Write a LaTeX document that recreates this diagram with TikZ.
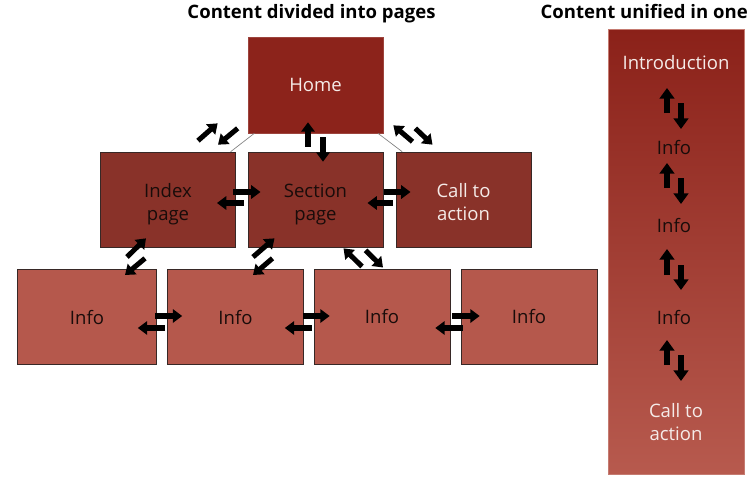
\documentclass[tikz,border=0pt]{standalone}
\usepackage{fontspec}
\setmainfont{Open Sans}
\usetikzlibrary{arrows.meta,calc}
\definecolor{homered}{RGB}{140,35,27}
\definecolor{midred}{RGB}{137,50,41}
\definecolor{infored}{RGB}{181,88,76}
\definecolor{coltop}{RGB}{139,33,25}
\definecolor{colbot}{RGB}{183,90,78}
\definecolor{boxline}{RGB}{55,40,38}
\definecolor{lighttext}{RGB}{245,235,232}
\definecolor{darktext}{RGB}{25,12,10}
\newcommand{\twoline}[2]{\raisebox{-3.8pt}[\height][\depth]{\begin{tabular}{@{}c@{}}#1\\#2\end{tabular}}}
\begin{document}
\begin{tikzpicture}[x=0.75pt,y=-0.75pt,
 page/.style={rectangle, inner sep=0pt, align=center, font=\fontsize{13.9}{17.5}\selectfont, draw=boxline, line width=0.5pt},
 homebox/.style={page, fill=homered, draw=homered!85!white, text=lighttext, minimum width=101.25pt, minimum height=72pt},
 midbox/.style={page, fill=midred, minimum width=101.5pt, minimum height=71.25pt},
 infobox/.style={page, fill=infored, text=darktext, minimum width=102pt, minimum height=71.5pt},
 barrow/.style={line width=3.8pt, -{Triangle[width=10pt,length=7pt]}},
 colarrow/.style={line width=4.5pt, -{Triangle[width=11pt,length=8pt]}},
 title/.style={font=\fontsize{13.9}{16}\selectfont\bfseries, text=black, inner sep=0pt},
 coltext/.style={font=\fontsize{13.9}{17.5}\selectfont, align=center, inner sep=0pt},
 link/.style={draw=gray, line width=0.5pt}]
\useasboundingbox (0,0) rectangle (750,497);

% titles
\node[title, anchor=base] (t1) at (311.5,18) {Content divided into pages};
\node[title, anchor=base east] (t2) at (748,18) {Content unified in one};

% boxes
\node[homebox] (home) at (315.5,85) {Home};
\node[midbox, text=darktext] (index) at (168,199.5) {\twoline{Index}{page}};
\node[midbox, text=darktext] (section) at (315.5,199.5) {\twoline{Section}{page}};
\node[midbox, text=lighttext] (call) at (463.5,199.5) {\twoline{Call to}{action}};
\node[infobox, minimum width=104.25pt] (info1) at (87,317) {Info};
\node[infobox] (info2) at (235.5,317) {Info};
\node[infobox] (info3) at (382,316.5) {Info};
\node[infobox] (info4) at (529,316.5) {Info};

% thin links
\draw[link] ([xshift=5]home.south west) -- ([xshift=-4]index.north east);
\draw[link] ([xshift=-4]home.south east) -- ([xshift=5]call.north west);

% home - index
\draw[barrow] ([shift={(-38,-11)}]index.north east) -- ([shift={(-30,-10)}]home.south west);
\draw[barrow] ([shift={(-10,-5)}]home.south west) -- ([shift={(-18,-7)}]index.north east);
% home - section
\draw[barrow] ([shift={(-7.5,-5)}]section.north) -- ([shift={(-7.5,-11)}]home.south);
\draw[barrow] ([shift={(7.5,4)}]home.south) -- ([shift={(7.5,10)}]section.north);
% home - call
\draw[barrow] ([shift={(17,-10)}]call.north west) -- ([shift={(10,-8)}]home.south east);
\draw[barrow] ([shift={(32,-5)}]home.south east) -- ([shift={(37,-7)}]call.north west);
% index - section
\draw[barrow] ([shift={(-3,-7.5)}]index.east) -- ([shift={(13,-7.5)}]section.west);
\draw[barrow] ([shift={(-4,3.5)}]section.west) -- ([shift={(-19,3.5)}]index.east);
% section - call
\draw[barrow] ([shift={(0,-7.5)}]section.east) -- ([shift={(15,-7.5)}]call.west);
\draw[barrow] ([shift={(-3,3.5)}]call.west) -- ([shift={(-16,3.5)}]section.east);
% index - info1
\draw[barrow] ([shift={(40,-12)}]info1.north) -- ([shift={(46,-9)}]index.south west);
\draw[barrow] ([shift={(45,11)}]index.south west) -- ([shift={(38,6)}]info1.north);
% section - info2
\draw[barrow] ([shift={(17.5,-12)}]info2.north) -- ([shift={(27,-9)}]section.south west);
\draw[barrow] ([shift={(25,11)}]section.south west) -- ([shift={(17.5,6)}]info2.north);
% section - info3
\draw[barrow] ([shift={(-20,-2)}]info3.north) -- ([shift={(-40,1)}]section.south east);
\draw[barrow] ([shift={(-18,3)}]section.south east) -- ([shift={(1,-1)}]info3.north);
% info row
\draw[barrow] ([shift={(-2,-1)}]info1.east) -- ([shift={(15,-1)}]info2.west);
\draw[barrow] ([shift={(-2,11)}]info2.west) -- ([shift={(-19,11)}]info1.east);
\draw[barrow] ([shift={(-1,-1)}]info2.east) -- ([shift={(16,-0.5)}]info3.west);
\draw[barrow] ([shift={(-2,11.5)}]info3.west) -- ([shift={(-19,11)}]info2.east);
\draw[barrow] ([shift={(2,-0.5)}]info3.east) -- ([shift={(19,-0.5)}]info4.west);
\draw[barrow] ([shift={(2,11.5)}]info4.west) -- ([shift={(-15,11.5)}]info3.east);

% right column
\node[rectangle, inner sep=0pt, draw=colbot!80!white, line width=0.5pt, top color=coltop, bottom color=colbot,
      minimum width=102pt, minimum height=333.75pt] (col) at (676,251.5) {};
\node[coltext, text=lighttext] (intro) at (676,63) {Introduction};
\node[coltext, text=darktext] (ci1) at (674,147) {Info};
\node[coltext, text=darktext] (ci2) at (674,225) {Info};
\node[coltext, text=darktext] (ci3) at (674,317) {Info};
\node[coltext, text=lighttext] (cta) at (676,422) {Call to\\action};

\draw[colarrow] ([shift={(-9,-34)}]ci1.center -| col.center) -- ([shift={(-9,25)}]intro.center -| col.center);
\draw[colarrow] ([shift={(5,40)}]intro.center -| col.center) -- ([shift={(5,-18)}]ci1.center -| col.center);
\draw[colarrow] ([shift={(-9,-37)}]ci2.center -| col.center) -- ([shift={(-9,16)}]ci1.center -| col.center);
\draw[colarrow] ([shift={(5,31)}]ci1.center -| col.center) -- ([shift={(5,-21)}]ci2.center -| col.center);
\draw[colarrow] ([shift={(-9,-42)}]ci3.center -| col.center) -- ([shift={(-9,24)}]ci2.center -| col.center);
\draw[colarrow] ([shift={(5,40)}]ci2.center -| col.center) -- ([shift={(5,-27)}]ci3.center -| col.center);
\draw[colarrow] ([shift={(-9,-57)}]cta.center -| col.center) -- ([shift={(-9,23)}]ci3.center -| col.center);
\draw[colarrow] ([shift={(5,38)}]ci3.center -| col.center) -- ([shift={(5,-41)}]cta.center -| col.center);
\end{tikzpicture}
\end{document}
